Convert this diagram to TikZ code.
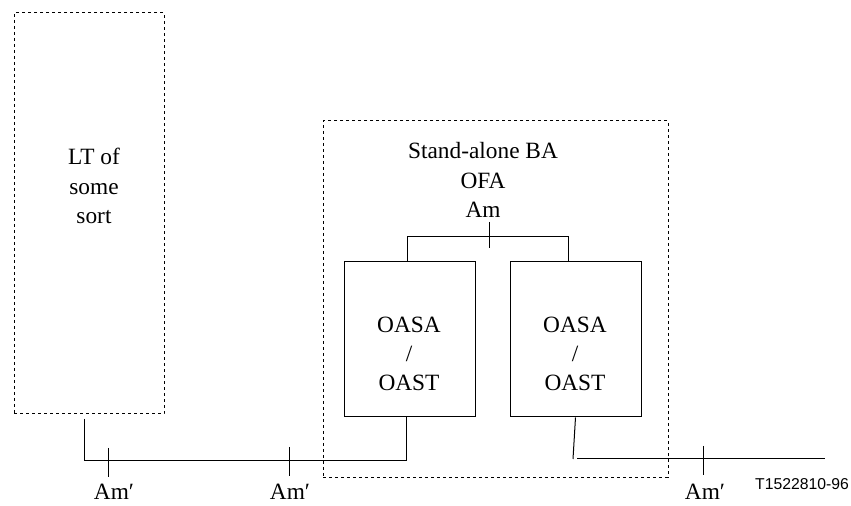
\documentclass[tikz,border=0pt]{standalone}
\usepackage{fontspec}
\setmainfont{Liberation Serif}
\newfontfamily\figfont{Liberation Sans}

\tikzset{every picture/.style={line width=0.75pt}}
\tikzset{
  dashbox/.style={draw, dash pattern={on 2.5pt off 2pt}, inner sep=0pt},
  solidbox/.style={draw, inner sep=0pt, minimum width=98.25pt, minimum height=116.25pt},
  lbl/.style={inner sep=0.75pt, align=center, font=\fontsize{17.5}{22}\selectfont},
  figno/.style={inner sep=0.75pt, font=\figfont\fontsize{11.8}{14}\selectfont}
}

\begin{document}
\begin{tikzpicture}[x=0.75pt,y=0.75pt,yscale=-1,xscale=1]
	\useasboundingbox (0,0) rectangle (851,506);
	
	%Shape: Rectangle [id:lt] 
	\node [dashbox, minimum width=112.5pt, minimum height=300.75pt] (lt) at (89,213.5) {};
	%Shape: Rectangle [id:ba] 
	\node [dashbox, minimum width=258.75pt, minimum height=267pt] (ba) at (495.5,299) {};
	%Shape: Rectangle [id:oasa1] 
	\node [solidbox] (oasa1) at (409.5,339.5) {};
	%Shape: Rectangle [id:oasa2] 
	\node [solidbox] (oasa2) at (575.5,339.5) {};
	
	% Connection points
	\coordinate (ltout) at (84,419);
	\coordinate (join1) at (406,460);
	\coordinate (drop2) at (573,459);
	\coordinate (linestart) at (577,459);
	\coordinate (lineend) at (825,459);
	\coordinate (amtop) at (489,222);
	\coordinate (ambot) at (489,248);
	\coordinate (leg1) at (407,237);
	\coordinate (leg2) at (568,237);
	
	%Straight Lines [id:lt-oasa1] 
	\draw (ltout) |- (join1) -- (join1 |- oasa1.south);
	%Straight Lines [id:oasa2-drop] 
	\draw (oasa2.south) -- (drop2);
	%Straight Lines [id:line] 
	\draw (linestart) -- (lineend);
	%Straight Lines [id:tree] 
	\draw (leg1 |- oasa1.north) -- (leg1) -- (leg2) -- (leg2 |- oasa2.north);
	\draw (amtop) -- (ambot);
	%Straight Lines [id:ticks] 
	\foreach \x/\y in {108/448,289/447,703/446}
	  \draw (\x,\y) -- (\x,\y+29);
	
	% Text Node
	\node [lbl] (ltname) at (94,186) {LT of\\some\\sort};
	% Text Node
	\node [lbl] (baname) at (483,180) {Stand-alone BA\\OFA\\Am};
	% Text Node
	\node [lbl] (oasaname1) at (409,354) {OASA\\/\\OAST};
	% Text Node
	\node [lbl] (oasaname2) at (575,354) {OASA\\/\\OAST};
	% Text Node
	\foreach \x/\n in {114/am1,290/am2,705/am3}
	  \node [lbl, anchor=base, text depth=0pt, inner sep=0pt] (\n) at (\x,499) {Am′};
	% Text Node
	\node [figno] (figno) at (802,484) {T1522810-96};
	
\end{tikzpicture}
\end{document}
